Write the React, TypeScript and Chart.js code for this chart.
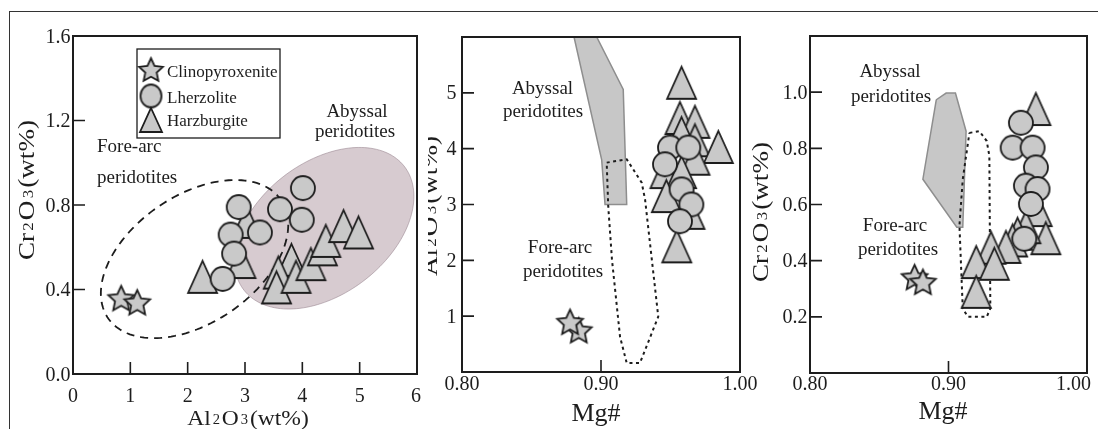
import React, { useEffect, useRef } from "react";
import { Chart, registerables } from "chart.js";

Chart.register(...registerables);

const FONT = '"Liberation Serif", "Times New Roman", serif';
const INK = "#1d1d1d";
const MARK_FILL = "#c9c9c9";

// ---------- Panel A : Cr2O3 vs Al2O3 ----------
const aClinoAl = [0.84, 1.12];
const aClinoCr = [0.36, 0.34];
const aLherzAl = [4.01, 3.61, 3.99, 2.89, 3.26, 2.75, 2.81, 2.61];
const aLherzCr = [0.88, 0.78, 0.73, 0.79, 0.67, 0.66, 0.57, 0.45];
const aHarzAl = [2.26, 3.03, 2.93, 3.81, 3.58, 3.55, 3.89, 4.15, 4.35, 4.41, 4.72, 4.98];
const aHarzCr = [0.46, 0.72, 0.53, 0.54, 0.48, 0.41, 0.46, 0.52, 0.59, 0.63, 0.7, 0.67];
const aXTicks = [0, 1, 2, 3, 4, 5, 6];
const aYTicks = [0, 0.4, 0.8, 1.2, 1.6];
// ellipses given by centre and two conjugate radius end points (data units)
const aAbyssalCenter = [4.38, 0.69];
const aAbyssalMajor = [5.8, 0.975];
const aAbyssalMinor = [3.72, 0.945];
const aForearcCenter = [2.12, 0.544];
const aForearcMajor = [3.64, 0.819];
const aForearcMinor = [1.52, 0.798];

// ---------- Panel B : Al2O3 vs Mg# ----------
const bClinoMg = [0.884, 0.8777];
const bClinoAl = [0.75, 0.9];
const bLherzMg = [0.9496, 0.9628, 0.946, 0.958, 0.965, 0.9568];
const bLherzAl = [4.02, 4.02, 3.72, 3.27, 3.0, 2.7];
const bHarzMg = [0.958, 0.9568, 0.9676, 0.958, 0.9676, 0.9844, 0.9676, 0.946, 0.958, 0.947, 0.964, 0.9545];
const bHarzAl = [5.18, 4.55, 4.48, 4.28, 4.15, 4.03, 3.82, 3.58, 3.58, 3.15, 2.85, 2.25];
const bAbyssalMg = [0.8806, 0.8969, 0.916, 0.9185, 0.9029, 0.9005, 0.8806];
const bAbyssalAl = [6.0, 6.0, 5.06, 3.0, 3.0, 3.8, 6.0];
const bForearcMg = [0.9041, 0.9185, 0.9293, 0.9317, 0.9412, 0.928, 0.9185, 0.9137, 0.9079, 0.9052, 0.9041];
const bForearcAl = [3.75, 3.81, 3.39, 3.09, 0.99, 0.16, 0.16, 0.63, 2.01, 2.97, 3.75];
const bXTicks = [0.8, 0.9, 1.0];
const bYTicks = [1, 2, 3, 4, 5];

// ---------- Panel C : Cr2O3 vs Mg# ----------
const cClinoMg = [0.8755, 0.8815];
const cClinoCr = [0.342, 0.325];
const cLherzMg = [0.9523, 0.9463, 0.9607, 0.9631, 0.9559, 0.9643, 0.9595, 0.9547];
const cLherzCr = [0.891, 0.8025, 0.8025, 0.732, 0.667, 0.655, 0.602, 0.478];
const cHarzMg = [0.9631, 0.964, 0.9703, 0.9559, 0.9499, 0.9463, 0.9415, 0.9307, 0.92, 0.9331, 0.92];
const cHarzCr = [0.94, 0.58, 0.48, 0.519, 0.496, 0.472, 0.449, 0.446, 0.395, 0.389, 0.289];
const cAbyssalMg = [0.8912, 0.8983, 0.905, 0.9127, 0.9103, 0.906, 0.8815, 0.8912];
const cAbyssalCr = [0.973, 0.997, 0.997, 0.861, 0.519, 0.519, 0.69, 0.973];
const cForearcMg = [0.9151, 0.9223, 0.9276, 0.9295, 0.9302, 0.9276, 0.9139, 0.9103, 0.9079, 0.9103, 0.9151];
const cForearcCr = [0.855, 0.861, 0.826, 0.773, 0.23, 0.2, 0.2, 0.23, 0.525, 0.69, 0.855];
const cXTicks = [0.8, 0.9, 1.0];
const cYTicks = [0.2, 0.4, 0.6, 0.8, 1.0];

const legendNames = ["Clinopyroxenite", "Lherzolite", "Harzburgite"];

type Part = [string, boolean?];
const AL2O3: Part[] = [["Al"], ["2", true], ["O"], ["3", true], ["(wt%)"]];
const CR2O3: Part[] = [["Cr"], ["2", true], ["O"], ["3", true], ["(wt%)"]];
const MG: Part[] = [["Mg#"]];

const pts = (xs: number[], ys: number[]) => xs.map((x, i) => ({ x, y: ys[i] }));

function makeMarker(kind: string, w: number, h: number): HTMLCanvasElement {
  const pad = 5;
  const c = document.createElement("canvas");
  c.width = Math.ceil(w + pad * 2);
  c.height = Math.ceil(h + pad * 2);
  const ctx = c.getContext("2d")!;
  ctx.fillStyle = MARK_FILL;
  ctx.strokeStyle = INK;
  ctx.lineWidth = 1.8;
  ctx.lineJoin = "miter";
  const cx = c.width / 2;
  const cy = c.height / 2;
  ctx.beginPath();
  if (kind === "tri") {
    ctx.moveTo(cx, cy - h / 2);
    ctx.lineTo(cx + w / 2, cy + h / 2);
    ctx.lineTo(cx - w / 2, cy + h / 2);
    ctx.closePath();
  } else if (kind === "circ") {
    ctx.ellipse(cx, cy, w / 2, h / 2, 0, 0, Math.PI * 2);
  } else {
    const R = w / 2;
    const r = R * 0.48;
    for (let i = 0; i < 10; i++) {
      const ang = -Math.PI / 2 + (i * Math.PI) / 5;
      const rr = i % 2 === 0 ? R : r;
      const x = cx + rr * Math.cos(ang);
      const y = cy + rr * Math.sin(ang) + R * 0.1;
      if (i === 0) ctx.moveTo(x, y);
      else ctx.lineTo(x, y);
    }
    ctx.closePath();
  }
  ctx.fill();
  ctx.stroke();
  return c;
}

function drawRich(ctx: CanvasRenderingContext2D, parts: Part[], size: number, x: number, y: number, stretch = 1) {
  const subSize = size * 0.62;
  const gap = size * 0.08;
  const widths = parts.map(([t, sub]) => {
    ctx.font = `${sub ? subSize : size}px ${FONT}`;
    return ctx.measureText(t).width + (sub ? gap * 2 : 0);
  });
  const total = widths.reduce((s, v) => s + v, 0);
  ctx.save();
  ctx.translate(x, y);
  ctx.scale(stretch, 1);
  ctx.textAlign = "left";
  ctx.textBaseline = "alphabetic";
  let cur = -total / 2;
  parts.forEach(([t, sub], i) => {
    ctx.font = `${sub ? subSize : size}px ${FONT}`;
    ctx.fillText(t, cur + (sub ? gap : 0), sub ? -size * 0.05 : 0);
    cur += widths[i];
  });
  ctx.restore();
}

function drawTitle(ctx: CanvasRenderingContext2D, parts: Part[], size: number, x: number, y: number, rotated: boolean, stretch = 1) {
  ctx.save();
  ctx.fillStyle = INK;
  ctx.translate(x, y);
  if (rotated) ctx.rotate(-Math.PI / 2);
  drawRich(ctx, parts, size, 0, 0, stretch);
  ctx.restore();
}

type Spec = {
  left: number;
  xTicks: number[];
  yTicks: number[];
  xFmt: (v: number) => string;
  yFmt: (v: number) => string;
  xLabelBase: number;
  yLabelGap: number;
  texts: [string, number, number, string][];
  titles: [Part[], number, number, number, boolean, number][];
};

function drawFrame(chart: any, spec: Spec) {
  const { ctx, chartArea: a } = chart;
  const xs = chart.scales.x;
  const ys = chart.scales.y;
  const L = spec.left;
  ctx.save();
  ctx.strokeStyle = INK;
  ctx.lineWidth = 2;
  ctx.strokeRect(a.left, a.top, a.right - a.left, a.bottom - a.top);
  ctx.lineWidth = 1.6;
  const TL = 12;
  ctx.beginPath();
  spec.xTicks.forEach((v) => {
    const px = xs.getPixelForValue(v);
    if (px > a.left + 3 && px < a.right - 3) {
      ctx.moveTo(px, a.bottom);
      ctx.lineTo(px, a.bottom - TL);
    }
  });
  spec.yTicks.forEach((v) => {
    const py = ys.getPixelForValue(v);
    if (py > a.top + 3 && py < a.bottom - 3) {
      ctx.moveTo(a.left, py);
      ctx.lineTo(a.left + TL, py);
    }
  });
  ctx.stroke();

  ctx.fillStyle = INK;
  ctx.font = `20px ${FONT}`;
  ctx.textBaseline = "alphabetic";
  ctx.textAlign = "center";
  spec.xTicks.forEach((v) => {
    const s = spec.xFmt(v);
    const w = ctx.measureText(s).width;
    let px = xs.getPixelForValue(v);
    px = Math.min(px, chart.width - 7 - w / 2);
    ctx.fillText(s, px, spec.xLabelBase);
  });
  ctx.textAlign = "right";
  spec.yTicks.forEach((v) => {
    const py = ys.getPixelForValue(v);
    ctx.fillText(spec.yFmt(v), a.left - spec.yLabelGap, py + 6.5);
  });

  ctx.font = `19px ${FONT}`;
  spec.texts.forEach(([t, x, y, align]) => {
    ctx.textAlign = align as CanvasTextAlign;
    ctx.fillText(t, x - L, y);
  });
  spec.titles.forEach(([parts, size, x, y, rot, st]) => drawTitle(ctx, parts, size, x - L, y, rot, st));
  ctx.restore();
}

function ellipsePath(ctx: CanvasRenderingContext2D, chart: any, c: number[], maj: number[], mnr: number[]) {
  const xs = chart.scales.x;
  const ys = chart.scales.y;
  const cx = xs.getPixelForValue(c[0]);
  const cy = ys.getPixelForValue(c[1]);
  const ux = xs.getPixelForValue(maj[0]) - cx;
  const uy = ys.getPixelForValue(maj[1]) - cy;
  const vx = xs.getPixelForValue(mnr[0]) - cx;
  const vy = ys.getPixelForValue(mnr[1]) - cy;
  ctx.beginPath();
  const n = 160;
  for (let i = 0; i <= n; i++) {
    const t = (i / n) * Math.PI * 2;
    const px = cx + ux * Math.cos(t) + vx * Math.sin(t);
    const py = cy + uy * Math.cos(t) + vy * Math.sin(t);
    if (i === 0) ctx.moveTo(px, py);
    else ctx.lineTo(px, py);
  }
  ctx.closePath();
}

function buildConfig(opts: {
  xMin: number; xMax: number; yMin: number; yMax: number;
  pad: { left: number; right: number; top: number; bottom: number };
  datasets: any[]; plugin: any;
}) {
  return {
    type: "scatter",
    data: { datasets: opts.datasets },
    options: {
      responsive: false,
      animation: false,
      devicePixelRatio: 1,
      events: [],
      layout: { padding: opts.pad },
      scales: {
        x: { type: "linear", min: opts.xMin, max: opts.xMax, display: false },
        y: { type: "linear", min: opts.yMin, max: opts.yMax, display: false },
      },
      plugins: { legend: { display: false }, tooltip: { enabled: false } },
    },
    plugins: [opts.plugin],
  } as any;
}

function markerSets(tri: HTMLCanvasElement, circ: HTMLCanvasElement, star: HTMLCanvasElement,
  harz: any[], lherz: any[], clino: any[]) {
  return [
    { label: "Clinopyroxenite", data: clino, pointStyle: star, pointRadius: 10, order: 1 },
    { label: "Lherzolite", data: lherz, pointStyle: circ, pointRadius: 10, order: 2 },
    { label: "Harzburgite", data: harz, pointStyle: tri, pointRadius: 10, order: 3 },
  ];
}

function polySet(data: any[], order: number) {
  return {
    type: "line", data, borderColor: "#8e8e8e", borderWidth: 1.5, backgroundColor: "#c7c7c7",
    fill: "shape", pointRadius: 0, tension: 0, order,
  };
}
function dotSet(data: any[], order: number) {
  return {
    type: "line", data, borderColor: INK, borderWidth: 2, borderDash: [3, 3.5],
    fill: false, pointRadius: 0, tension: 0, order,
  };
}

const P1 = { left: 0, width: 428 };
const P2 = { left: 428, width: 337 };
const P3 = { left: 745, width: 353 };
const H = 429;

function configA() {
  const tri = makeMarker("tri", 29, 32);
  const circ = makeMarker("circ", 24, 24);
  const star = makeMarker("star", 27, 27);
  const spec: Spec = {
    left: P1.left,
    xTicks: aXTicks, yTicks: aYTicks,
    xFmt: (v) => String(v), yFmt: (v) => v.toFixed(1),
    xLabelBase: 402, yLabelGap: 2.5,
    texts: [
      ["Abyssal", 357, 117, "center"],
      ["peridotites", 355, 137, "center"],
      ["Fore-arc", 97, 152, "left"],
      ["peridotites", 97, 183, "left"],
    ],
    titles: [
      [AL2O3, 22, 248, 425, false, 1.07],
      [CR2O3, 23, 34, 190, true, 1.18],
    ],
  };
  const plugin = {
    id: "panelA",
    beforeDatasetsDraw(chart: any) {
      const ctx = chart.ctx;
      ctx.save();
      ellipsePath(ctx, chart, aAbyssalCenter, aAbyssalMajor, aAbyssalMinor);
      ctx.fillStyle = "rgb(215,203,208)";
      ctx.fill();
      ctx.strokeStyle = "rgba(150,130,140,0.55)";
      ctx.lineWidth = 1;
      ctx.stroke();
      ellipsePath(ctx, chart, aForearcCenter, aForearcMajor, aForearcMinor);
      ctx.setLineDash([8, 6]);
      ctx.strokeStyle = INK;
      ctx.lineWidth = 1.8;
      ctx.stroke();
      ctx.restore();
    },
    afterDatasetsDraw(chart: any) {
      drawFrame(chart, spec);
      const ctx = chart.ctx;
      ctx.save();
      ctx.strokeStyle = INK;
      ctx.lineWidth = 1.3;
      ctx.strokeRect(137, 49, 143, 89);
      const ls = makeMarker("star", 25, 25);
      const lc = makeMarker("circ", 21, 23);
      const lt = makeMarker("tri", 22, 24);
      const ys = [69.5, 96, 120];
      [ls, lc, lt].forEach((m, i) => ctx.drawImage(m, 151 - m.width / 2, ys[i] - m.height / 2));
      ctx.fillStyle = INK;
      ctx.font = `17px ${FONT}`;
      ctx.textAlign = "left";
      ctx.textBaseline = "alphabetic";
      const bases = [76.5, 103, 126];
      legendNames.forEach((n, i) => ctx.fillText(n, 167, bases[i]));
      ctx.restore();
    },
  };
  return buildConfig({
    xMin: 0, xMax: 6, yMin: 0, yMax: 1.6,
    pad: { left: 73 - P1.left, right: P1.left + P1.width - 423, top: 36, bottom: H - 374 },
    datasets: markerSets(tri, circ, star, pts(aHarzAl, aHarzCr), pts(aLherzAl, aLherzCr), pts(aClinoAl, aClinoCr)),
    plugin,
  });
}

function configB() {
  const tri = makeMarker("tri", 29, 32);
  const circ = makeMarker("circ", 24, 24);
  const star = makeMarker("star", 27, 27);
  const spec: Spec = {
    left: P2.left,
    xTicks: bXTicks, yTicks: bYTicks,
    xFmt: (v) => v.toFixed(2), yFmt: (v) => String(v),
    xLabelBase: 390, yLabelGap: 5.5,
    texts: [
      ["Abyssal", 542.5, 94, "center"],
      ["peridotites", 543, 116.5, "center"],
      ["Fore-arc", 560, 253, "center"],
      ["peridotites", 563, 276.5, "center"],
    ],
    titles: [
      [MG, 26, 596, 421, false, 1],
      [AL2O3, 23, 437, 206, true, 1.18],
    ],
  };
  const plugin = { id: "panelB", afterDatasetsDraw(chart: any) { drawFrame(chart, spec); } };
  return buildConfig({
    xMin: 0.8, xMax: 1.0, yMin: 0, yMax: 6,
    pad: { left: 462 - P2.left, right: P2.left + P2.width - 740, top: 37, bottom: H - 372 },
    datasets: [
      ...markerSets(tri, circ, star, pts(bHarzMg, bHarzAl), pts(bLherzMg, bLherzAl), pts(bClinoMg, bClinoAl)),
      dotSet(pts(bForearcMg, bForearcAl), 4),
      polySet(pts(bAbyssalMg, bAbyssalAl), 5),
    ],
    plugin,
  });
}

function configC() {
  const tri = makeMarker("tri", 29, 32);
  const circ = makeMarker("circ", 24, 24);
  const star = makeMarker("star", 27, 27);
  const spec: Spec = {
    left: P3.left,
    xTicks: cXTicks, yTicks: cYTicks,
    xFmt: (v) => v.toFixed(2), yFmt: (v) => v.toFixed(1),
    xLabelBase: 390, yLabelGap: 2.5,
    texts: [
      ["Abyssal", 890, 76.5, "center"],
      ["peridotites", 891, 101.5, "center"],
      ["Fore-arc", 895, 230.5, "center"],
      ["peridotites", 898, 255, "center"],
    ],
    titles: [
      [MG, 26, 943, 419, false, 1],
      [CR2O3, 23, 768, 212, true, 1.18],
    ],
  };
  const plugin = { id: "panelC", afterDatasetsDraw(chart: any) { drawFrame(chart, spec); } };
  return buildConfig({
    xMin: 0.8, xMax: 1.0, yMin: 0, yMax: 1.2,
    pad: { left: 810 - P3.left, right: P3.left + P3.width - 1088, top: 36, bottom: H - 373 },
    datasets: [
      ...markerSets(tri, circ, star, pts(cHarzMg, cHarzCr), pts(cLherzMg, cLherzCr), pts(cClinoMg, cClinoCr)),
      dotSet(pts(cForearcMg, cForearcCr), 4),
      polySet(pts(cAbyssalMg, cAbyssalCr), 5),
    ],
    plugin,
  });
}

function Panel(props: { left: number; width: number; build: () => any }) {
  const ref = useRef<HTMLCanvasElement>(null);
  useEffect(() => {
    const chart = new Chart(ref.current as HTMLCanvasElement, props.build());
    return () => chart.destroy();
  }, []);
  return (
    <canvas
      ref={ref}
      width={props.width}
      height={H}
      style={{ position: "absolute", left: props.left, top: 0, width: props.width, height: H, display: "block" }}
    />
  );
}

export default function App() {
  return (
    <div style={{ position: "absolute", left: 0, top: 0, width: 1098, height: 429, overflow: "hidden", background: "#fff" }}>
      <div style={{ position: "absolute", left: 9, top: 11, width: 1300, height: 700, borderLeft: "1px solid #333", borderTop: "1px solid #333" }} />
      <Panel left={P1.left} width={P1.width} build={configA} />
      <Panel left={P2.left} width={P2.width} build={configB} />
      <Panel left={P3.left} width={P3.width} build={configC} />
    </div>
  );
}
